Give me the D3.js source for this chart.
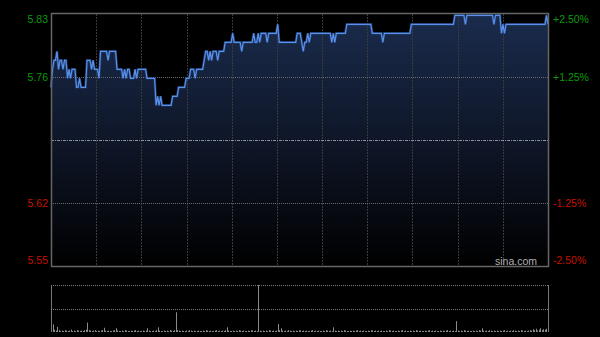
<!DOCTYPE html>
<html>
<head>
<meta charset="utf-8">
<script src="https://cdn.jsdelivr.net/npm/d3@7"></script>
<style>
body { margin: 0; background: #000; }
svg { display: block; }
text { font-family: "Liberation Sans", Arial, sans-serif; }
</style>
</head>
<body>
<svg id="chart" width="600" height="337"></svg>
<script>
// minute prices
var prices = [
  5.75,5.77,5.78,5.78,5.79,5.77,5.78,5.78,5.77,5.78,5.78,5.76,5.77,5.76,5.77,5.77,5.77,5.75,5.75,5.76,
  5.75,5.75,5.75,5.75,5.78,5.78,5.78,5.77,5.78,5.77,5.77,5.77,5.76,5.79,5.79,5.79,5.79,5.79,5.78,5.79,
  5.79,5.79,5.79,5.79,5.77,5.77,5.77,5.77,5.76,5.77,5.76,5.77,5.77,5.76,5.76,5.76,5.77,5.76,5.77,5.77,
  5.77,5.77,5.77,5.77,5.76,5.76,5.76,5.76,5.76,5.76,5.73,5.74,5.73,5.74,5.73,5.73,5.73,5.73,5.73,5.73,
  5.73,5.74,5.74,5.74,5.74,5.75,5.75,5.75,5.75,5.75,5.76,5.76,5.76,5.77,5.77,5.77,5.76,5.77,5.77,5.77,
  5.77,5.77,5.78,5.79,5.79,5.78,5.79,5.78,5.79,5.79,5.79,5.78,5.79,5.79,5.79,5.79,5.80,5.80,5.80,5.80,
  5.80,5.81,5.80,5.80,5.80,5.80,5.80,5.79,5.80,5.80,5.80,5.80,5.80,5.80,5.80,5.81,5.80,5.80,5.81,5.80,
  5.81,5.81,5.81,5.81,5.80,5.81,5.81,5.81,5.81,5.81,5.81,5.82,5.80,5.80,5.80,5.80,5.80,5.80,5.80,5.80,
  5.80,5.80,5.80,5.80,5.81,5.81,5.81,5.80,5.79,5.80,5.80,5.81,5.80,5.81,5.81,5.81,5.81,5.81,5.81,5.81,
  5.81,5.81,5.81,5.81,5.81,5.81,5.81,5.80,5.81,5.80,5.81,5.81,5.81,5.81,5.81,5.81,5.81,5.82,5.82,5.82,
  5.82,5.82,5.82,5.82,5.82,5.82,5.82,5.82,5.82,5.82,5.82,5.82,5.82,5.82,5.81,5.81,5.81,5.81,5.81,5.81,
  5.81,5.80,5.81,5.81,5.81,5.81,5.81,5.81,5.81,5.81,5.81,5.81,5.81,5.81,5.81,5.81,5.81,5.81,5.81,5.81,
  5.82,5.82,5.82,5.82,5.82,5.82,5.82,5.82,5.82,5.82,5.82,5.82,5.82,5.82,5.82,5.82,5.82,5.82,5.82,5.82,
  5.82,5.82,5.82,5.82,5.82,5.82,5.82,5.82,5.82,5.83,5.83,5.83,5.83,5.83,5.83,5.83,5.82,5.83,5.83,5.83,
  5.83,5.83,5.83,5.83,5.83,5.83,5.83,5.83,5.83,5.83,5.83,5.83,5.83,5.83,5.83,5.82,5.83,5.83,5.83,5.83,
  5.81,5.82,5.81,5.82,5.82,5.82,5.82,5.82,5.82,5.82,5.82,5.82,5.82,5.82,5.82,5.82,5.82,5.82,5.82,5.82,
  5.82,5.82,5.82,5.82,5.82,5.82,5.82,5.82,5.82,5.82,5.83,5.82
];
// minute volumes (relative)
var volumes = [
  23,16,5,3,11,4,2,3,2,4,3,2,3,5,2,3,2,4,3,2,
  3,2,4,5,20,4,3,2,3,4,2,3,2,3,4,9,3,2,3,2,
  2,3,4,8,3,2,2,3,2,4,3,2,2,3,2,3,4,2,3,2,
  2,3,2,3,8,3,2,2,3,2,4,10,3,2,2,3,2,3,2,4,
  3,2,4,42,4,3,2,3,2,2,3,2,4,3,2,3,2,2,3,2,
  2,3,2,4,3,2,3,2,2,3,4,2,3,2,3,2,4,10,3,2,
  2,3,2,3,2,4,3,2,3,2,2,3,2,4,3,2,3,2,100,3,
  2,3,2,3,2,4,3,2,3,2,3,17,4,8,3,2,3,2,4,3,
  2,3,2,3,2,4,3,2,3,2,3,2,2,3,4,2,3,2,3,2,
  2,3,2,4,3,2,3,2,10,3,2,3,2,3,2,4,3,2,2,3,
  2,3,2,3,4,2,3,2,3,2,2,3,2,4,3,2,3,2,3,2,
  3,2,2,3,2,4,3,2,3,2,2,3,2,3,4,2,3,2,2,3,
  2,3,2,4,3,2,3,2,2,3,2,3,4,2,3,2,3,2,2,3,
  2,3,2,3,4,2,3,2,3,2,23,3,2,3,2,4,3,2,3,2,
  2,3,2,3,2,4,3,8,3,2,3,2,4,3,2,3,2,3,2,3,
  2,3,4,2,3,2,3,2,4,3,2,3,2,4,3,2,3,2,3,4,
  3,6,4,7,3,5,8,4,6,5,7,8
];
var prevClose = 5.69;
var priceTicks = [5.83, 5.76, 5.62, 5.55];
var pctTicks = ['+2.50%', '+1.25%', '-1.25%', '-2.50%'];
var gridCols = 11;

function draw() {
  var pLeft = 51, pRight = 548, pTop = 14, pBottom = 266;
  var vTop = 285, vBottom = 332;

  var svg = d3.select('#chart');
  var x = d3.scaleLinear().domain([0, prices.length - 1]).range([pLeft, pRight]);
  var y = d3.scaleLinear().domain([5.55, 5.83]).range([pBottom, pTop]);
  var vy = d3.scaleLinear().domain([0, d3.max(volumes)]).range([vBottom, vTop]);
  var up = '#0b9a0b', down = '#c41200';

  var defs = svg.append('defs');
  var grad = defs.append('linearGradient').attr('id', 'fillg')
    .attr('gradientUnits', 'userSpaceOnUse')
    .attr('x1', 0).attr('x2', 0).attr('y1', pTop).attr('y2', pBottom);
  grad.append('stop').attr('offset', 0).attr('stop-color', '#1a2b4c');
  grad.append('stop').attr('offset', 0.55).attr('stop-color', '#0d1424');
  grad.append('stop').attr('offset', 1).attr('stop-color', '#000000');

  // price series sits about a pixel below the grid in the original
  var series = svg.append('g').attr('transform', 'translate(0,1.3)');
  series.append('path').datum(prices)
    .attr('fill', 'url(#fillg)')
    .attr('d', d3.area().x(function(d,i){return x(i);}).y0(pBottom - 1.3).y1(function(d){return y(d);}));

  // grid
  var cols = d3.range(1, gridCols).map(function(k){ return pLeft + k*(pRight-pLeft)/gridCols; });
  var grid = svg.append('g');
  grid.selectAll('line.v').data(cols).enter().append('line')
    .attr('x1', function(d){return Math.round(d)+0.5;}).attr('x2', function(d){return Math.round(d)+0.5;})
    .attr('y1', pTop).attr('y2', pBottom)
    .attr('stroke', '#3a3a3a').attr('stroke-dasharray', '2,1');
  grid.selectAll('line.h').data([5.76, 5.62]).enter().append('line')
    .attr('x1', pLeft).attr('x2', pRight)
    .attr('y1', function(d){return Math.round(y(d))+0.5;}).attr('y2', function(d){return Math.round(y(d))+0.5;})
    .attr('stroke', '#6a6a6a').attr('stroke-dasharray', '1,1');
  grid.append('line')
    .attr('x1', pLeft).attr('x2', pRight)
    .attr('y1', Math.round(y(prevClose))+0.5).attr('y2', Math.round(y(prevClose))+0.5)
    .attr('stroke', '#8a919c').attr('stroke-dasharray', '3,1,1,1');

  // price line with a soft glow
  var line = d3.line().x(function(d,i){return x(i);}).y(function(d){return y(d);});
  var lines = svg.append('g').attr('transform', 'translate(0,1.3)');
  lines.append('path').datum(prices)
    .attr('fill', 'none').attr('stroke', '#24498a').attr('stroke-width', 2.6).attr('stroke-opacity', 0.7)
    .attr('d', line);
  lines.append('path').datum(prices)
    .attr('fill', 'none').attr('stroke', '#5a90e8').attr('stroke-width', 1.2)
    .attr('d', line);

  // frame
  svg.append('path')
    .attr('d', 'M' + (pLeft+0.5) + ',' + pBottom + 'V' + (pTop-0.5) + 'H' + (pRight+0.5) + 'V' + (pBottom+0.5) + 'H' + pLeft)
    .attr('fill', 'none').attr('stroke', '#666').attr('stroke-width', 1.5);

  // labels
  svg.append('g').selectAll('text').data(priceTicks).enter().append('text')
    .attr('x', 48).attr('y', function(d){ return Math.max(19, Math.min(260, y(d))); })
    .attr('dy', '0.35em').attr('text-anchor', 'end').attr('font-size', '10.5px')
    .attr('fill', function(d){ return d > prevClose ? up : down; })
    .text(function(d){ return d.toFixed(2); });
  svg.append('g').selectAll('text').data(pctTicks).enter().append('text')
    .attr('x', 553).attr('y', function(d,i){ return Math.max(19, Math.min(260, y(priceTicks[i]))); })
    .attr('dy', '0.35em').attr('font-size', '10.5px')
    .attr('fill', function(d){ return d[0] === '+' ? up : down; })
    .text(function(d){ return d; });
  svg.append('text').attr('x', 537).attr('y', 265).attr('text-anchor', 'end')
    .attr('font-size', '10.5px').attr('fill', '#b0b0b0').text('sina.com');

  // volume panel
  svg.append('g').selectAll('line').data([vTop, (vTop+vBottom)/2]).enter().append('line')
    .attr('x1', pLeft).attr('x2', pRight)
    .attr('y1', function(d){return Math.round(d)+0.5;}).attr('y2', function(d){return Math.round(d)+0.5;})
    .attr('stroke', '#777').attr('stroke-dasharray', '1,1');
  svg.append('g').selectAll('line').data(volumes).enter().append('line')
    .attr('x1', function(d,i){return Math.round(x(i))+0.5;}).attr('x2', function(d,i){return Math.round(x(i))+0.5;})
    .attr('y1', vBottom).attr('y2', function(d){return vy(d);})
    .attr('stroke', '#8a8a8a').attr('stroke-width', 1);
  svg.append('g').selectAll('line').data([pLeft, pRight]).enter().append('line')
    .attr('x1', function(d){return d+0.5;}).attr('x2', function(d){return d+0.5;})
    .attr('y1', vTop).attr('y2', vBottom)
    .attr('stroke', '#777');
}
draw();
</script>
</body>
</html>
